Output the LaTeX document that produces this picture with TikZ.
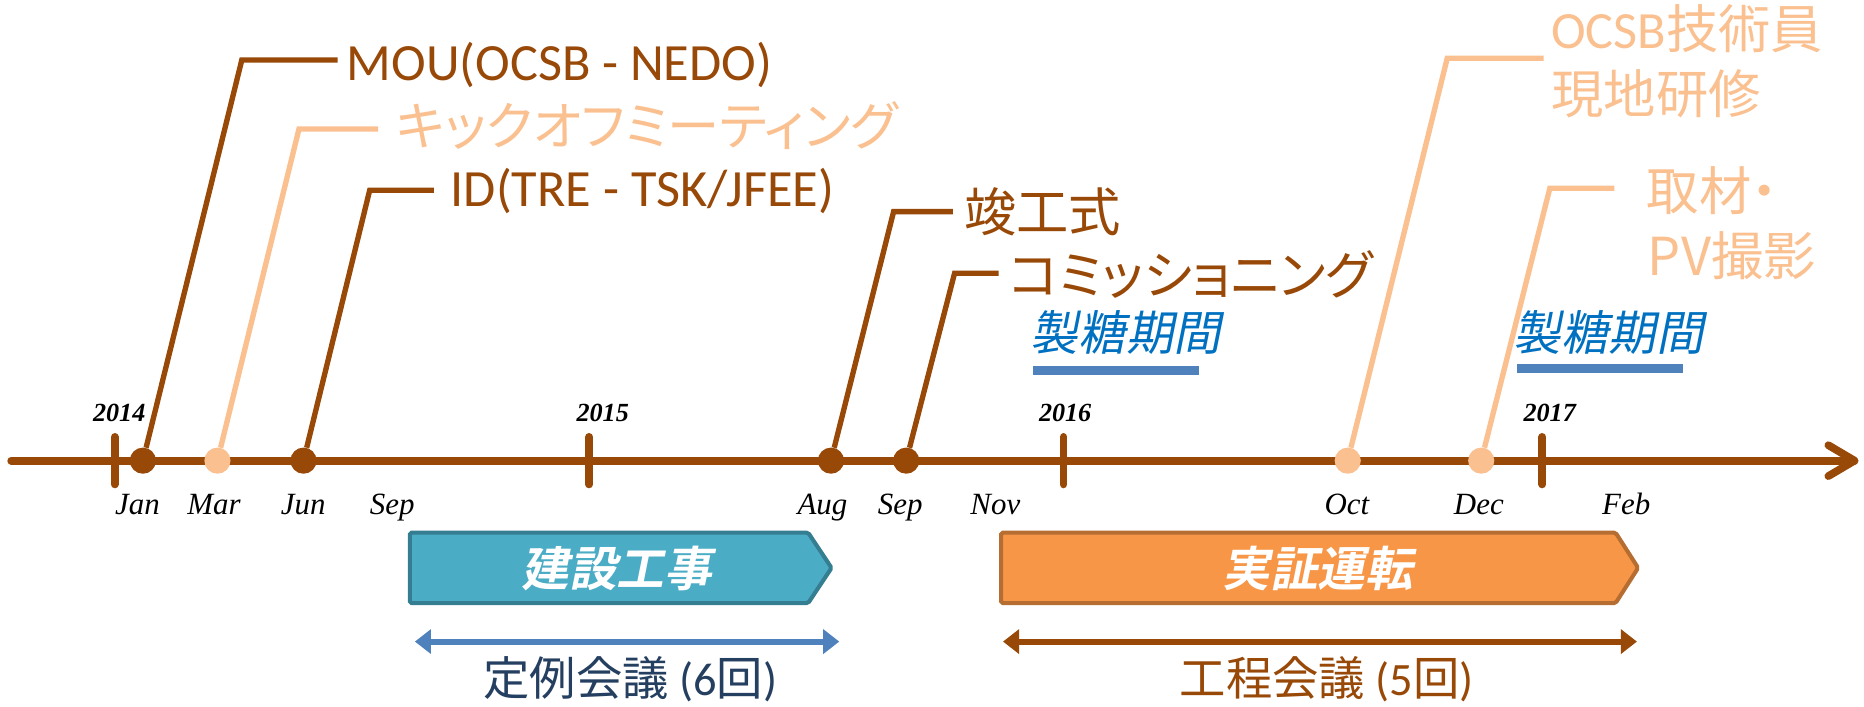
\documentclass[tikz,border=0pt]{standalone}
\usepackage{fontspec}
\setmainfont{Carlito}
\newfontfamily\jp{Noto Sans CJK JP}
\newfontfamily\jpk[RawFeature=+palt]{Noto Sans CJK JP}
\newfontfamily\jpi[FakeSlant=0.2]{Noto Sans CJK JP}
\newfontfamily\jpbi[FakeSlant=0.2]{Noto Sans CJK JP Bold}
\newfontfamily\tms{Liberation Serif}
\usetikzlibrary{arrows.meta,calc}
\definecolor{dbrown}{HTML}{984807}
\definecolor{peach}{HTML}{FAC090}
\definecolor{tealfill}{HTML}{4BACC6}
\definecolor{tealedge}{HTML}{357D91}
\definecolor{orfill}{HTML}{F79646}
\definecolor{oredge}{HTML}{B66D31}
\definecolor{bluearr}{HTML}{4F81BD}
\definecolor{navy}{HTML}{243F60}
\definecolor{sugar}{HTML}{0070C0}
\tikzset{
  axisline/.style={draw=dbrown, line width=6.5pt},
  tickline/.style={draw=dbrown, line width=6.5pt, line cap=round},
  leadD/.style={draw=dbrown, line width=4.5pt},
  leadL/.style={draw=peach, line width=4.5pt},
  dotD/.style={circle, fill=dbrown, minimum size=22pt, inner sep=0pt},
  dotL/.style={circle, fill=peach, minimum size=22pt, inner sep=0pt},
  lblB/.style={inner sep=0pt, anchor=base west, font=\fontsize{44}{53}\selectfont},
  lblJ/.style={inner sep=0pt, anchor=west, font=\fontsize{44}{53}\selectfont},
  month/.style={inner sep=0pt, anchor=base, font={\tms\itshape\fontsize{26}{30}\selectfont}},
  year/.style={inner sep=0pt, anchor=base, font={\tms\bfseries\itshape\fontsize{22}{26}\selectfont}},
  sugarlbl/.style={inner sep=0pt, anchor=west, text=sugar, font={\jpi\fontsize{40}{48}\selectfont}},
  sugarbar/.style={draw=bluearr, line width=7.5pt},
  boxtext/.style={inner sep=0pt, text=white, font={\jpbi\fontsize{40}{48}\selectfont}},
  meetlbl/.style={inner sep=0pt, anchor=base, font=\fontsize{39}{47}\selectfont},
}
\begin{document}
\begin{tikzpicture}[x=1pt, y=-1pt]
\useasboundingbox (0,0) rectangle (1568,594);
% axis
\coordinate (axS) at (9.4,387.5);
\coordinate (axE) at (1560,387.5);
\draw[axisline, line cap=round] (axS) -- (axE);
\draw[axisline, line cap=round, line join=round] ($(axE)+(-22,-13)$) -- (axE) -- ($(axE)+(-22,13)$);
% ticks
\foreach \n/\x in {t2014/96.5, t2015/495.6, t2016/894.7, t2017/1297.4}{
  \coordinate (\n) at (\x,387.5);
  \draw[tickline] ($(\n)+(0,-20)$) -- ($(\n)+(0,20)$);
}
% years
\node[year] (y2014) at (100.3,354.6) {2014};
\node[year] (y2015) at (507,354.6) {2015};
\node[year] (y2016) at (896,354.6) {2016};
\node[year] (y2017) at (1303.6,354.6) {2017};
% months
\node[month] (mJan) at (115.6,433) {Jan};
\node[month] (mMar) at (180,433) {Mar};
\node[month] (mJun) at (255,433) {Jun};
\node[month] (mSep1) at (330,433) {Sep};
\node[month] (mAug) at (691.8,433) {Aug};
\node[month] (mSep2) at (757.3,433) {Sep};
\node[month] (mNov) at (837.3,433) {Nov};
\node[month] (mOct) at (1133,433) {Oct};
\node[month] (mDec) at (1244,433) {Dec};
\node[month] (mFeb) at (1368,433) {Feb};
% dots
\node[dotD] (dJan) at (120.2,387.5) {};
\node[dotL] (dMar) at (182.9,387.5) {};
\node[dotD] (dJun) at (255.3,387.5) {};
\node[dotD] (dAug) at (699,387.5) {};
\node[dotD] (dSep) at (762.3,387.5) {};
\node[dotL] (dOct) at (1133.7,387.5) {};
\node[dotL] (dDec) at (1246,387.5) {};
% leader bends
\coordinate (mouB) at (203.4,50.5);   \coordinate (mouE) at (284,50.5);
\coordinate (kB) at (251.5,108.5);    \coordinate (kE) at (318,108.5);
\coordinate (idB) at (311,160);       \coordinate (idE) at (365,160);
\coordinate (jB) at (751.7,178);      \coordinate (jE) at (801.6,178);
\coordinate (cB) at (803,229.8);      \coordinate (cE) at (840,229.8);
\coordinate (oB) at (1217.4,49);      \coordinate (oE) at (1298.5,49);
\coordinate (tB) at (1303.7,158.4);   \coordinate (tE) at (1358,158.4);
\draw[leadD] (dJan) -- (mouB) -- (mouE);
\draw[leadL] (dMar) -- (kB) -- (kE);
\draw[leadD] (dJun) -- (idB) -- (idE);
\draw[leadD] (dAug) -- (jB) -- (jE);
\draw[leadD] (dSep) -- (cB) -- (cE);
\draw[leadL] (dOct) -- (oB) -- (oE);
\draw[leadL] (dDec) -- (tB) -- (tE);
% leader labels
\node[lblB, text=dbrown] (mou) at (291.5,67.3) {MOU(OCSB - NEDO)};
\node[lblJ, text=peach] (kick) at (333,105.6) {\jpk キックオフミーティング};
\node[lblB, text=dbrown] (idl) at (379,173.8) {ID(TRE - TSK/JFEE)};
\node[lblJ, text=dbrown] (shun) at (811,178.5) {\jp 竣工式};
\node[lblJ, text=dbrown] (comm) at (849,230.6) {\jpk コミッショニング};
\node[lblB, text=peach] (ocsb1) at (1304.5,40.7) {OCSB{\jp 技術員}};
\node[lblJ, text=peach] (ocsb2) at (1305,79) {\jp 現地研修};
\node[lblJ, text=peach] (shuz1) at (1385,160.5) {\jpk 取材・};
\node[lblJ, text=peach] (shuz2) at (1386,215) {\jp PV撮影};
% sugar season
\node[sugarlbl] (sug1) at (867,280) {製糖期間};
\node[sugarlbl] (sug2) at (1273,279.6) {製糖期間};
\coordinate (s1a) at (869,311.6); \coordinate (s1b) at (1009,311.6);
\coordinate (s2a) at (1276,310);  \coordinate (s2b) at (1415.5,310);
\draw[sugarbar] (s1a) -- (s1b);
\draw[sugarbar] (s2a) -- (s2b);
% phase boxes
\draw[fill=tealfill, draw=tealedge, line width=3.4pt, rounded corners=1.5pt]
  (344.8,448) -- (679.8,448) -- (699.5,477.7) -- (679.8,507.4) -- (344.8,507.4) -- cycle;
\node[boxtext] (build) at (519,478) {建設工事};
\draw[fill=orfill, draw=oredge, line width=3.4pt, rounded corners=1.5pt]
  (842.2,448) -- (1359,448) -- (1378,477.7) -- (1359,507.4) -- (842.2,507.4) -- cycle;
\node[boxtext] (demo) at (1108.6,478) {実証運転};
% meeting arrows
\coordinate (b1) at (349,539.7); \coordinate (b2) at (706,539.7);
\coordinate (o1) at (843.7,539.7); \coordinate (o2) at (1377,539.7);
\draw[draw=bluearr, line width=5pt, {Triangle[length=13.5pt,width=20pt]}-{Triangle[length=13.5pt,width=20pt]}] (b1) -- (b2);
\draw[draw=dbrown, line width=5pt, {Triangle[length=13.5pt,width=20pt]}-{Triangle[length=13.5pt,width=20pt]}] (o1) -- (o2);
\node[meetlbl, text=navy] (teirei) at (530.2,584.8) {{\jp 定例会議} (6{\jp 回})};
\node[meetlbl, text=dbrown] (koutei) at (1116,584.8) {{\jp 工程会議} (5{\jp 回})};
\end{tikzpicture}
\end{document}
